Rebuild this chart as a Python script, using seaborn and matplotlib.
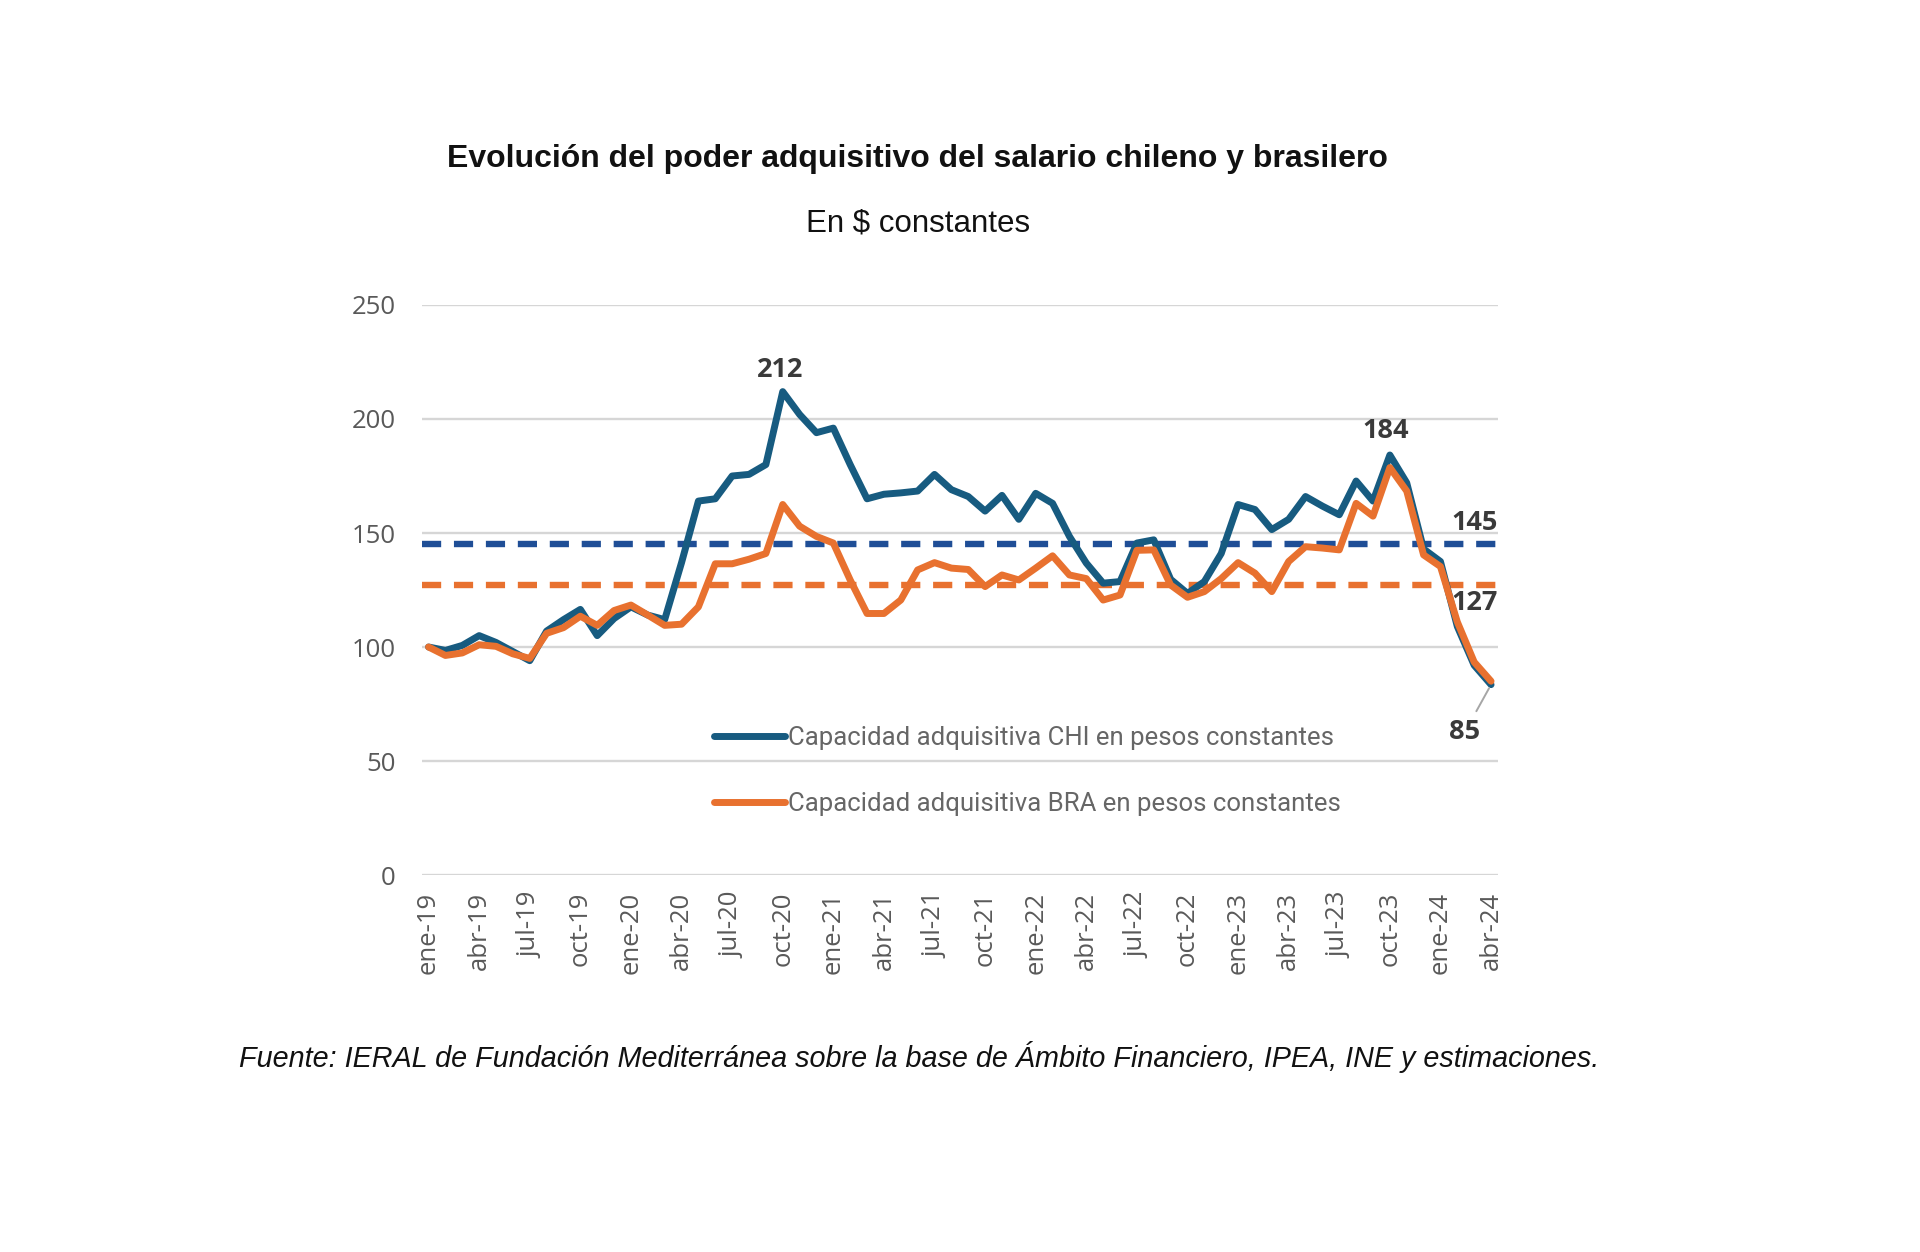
import numpy as np
import pandas as pd
import matplotlib
matplotlib.use("Agg")
import matplotlib.pyplot as plt
from matplotlib.lines import Line2D
import seaborn as sns

# ---------------- data ----------------
chi = [100, 98.5, 100.7, 105, 102, 98, 94, 107, 112, 116.5,
       105, 112.5, 117.6, 114, 112, 137, 164, 165, 175, 175.7,
       180, 212, 202, 194, 196, 180, 165, 167, 167.6, 168.4,
       175.7, 169, 166, 159.6, 166.5, 156, 167.4, 163, 148.5, 136.8,
       128, 128.7, 145.6, 147, 129.7, 123.5, 128.7, 141, 162.5, 160.3,
       151.5, 156, 166, 161.8, 158, 172.8, 164, 184.2, 172, 143,
       137.5, 109, 92, 83.5]
bra = [100, 96.3, 97.4, 101, 100.3, 97, 95, 106, 108.5, 113.5,
       109.5, 116, 118.4, 114, 109.5, 110, 117.6, 136.5, 136.5, 138.5,
       141, 162.5, 153, 148.5, 145.6, 129.4, 114.7, 114.7, 120.6, 133.8,
       137, 134.6, 134, 126.5, 131.6, 129.4, 134.6, 140, 131.6, 130,
       120.6, 122.8, 142.4, 142.6, 127.2, 121.8, 124.3, 130, 137, 132.4,
       124.3, 137.5, 144, 143.4, 142.6, 163, 157.4, 178.7, 168.4, 140.4,
       135.3, 111, 93.4, 85]
avg_chi = 145
avg_bra = 127
tick_labels = ["ene-19", "abr-19", "jul-19", "oct-19", "ene-20", "abr-20",
               "jul-20", "oct-20", "ene-21", "abr-21", "jul-21", "oct-21",
               "ene-22", "abr-22", "jul-22", "oct-22", "ene-23", "abr-23",
               "jul-23", "oct-23", "ene-24", "abr-24"]
series_names = ["Capacidad adquisitiva CHI en pesos constantes",
                "Capacidad adquisitiva BRA en pesos constantes"]
title = "Evolución del poder adquisitivo del salario chileno y brasilero"
subtitle = "En $ constantes"
source = ("Fuente: IERAL de Fundación Mediterránea sobre la base de Ámbito "
          "Financiero, IPEA, INE y estimaciones.")

# ---------------- style ----------------
sns.set_theme(style="white")
plt.rcParams["font.family"] = ["Liberation Sans", "DejaVu Sans"]

C_CHI = "#175B80"
C_BRA = "#E8712F"
C_CHI_AVG = "#1F4E96"
C_BRA_AVG = "#E8712F"
GRID = "#d6d6d6"
TXT = "#595959"
LBL = "#3a3a3a"

months = np.arange(len(chi))
df = pd.DataFrame({
    "mes": np.concatenate([months, months]),
    "valor": chi + bra,
    "serie": [series_names[0]] * len(chi) + [series_names[1]] * len(bra),
})

fig = plt.figure(figsize=(19.2, 12.52), dpi=100)
ax = fig.add_axes([0.2197, 0.3011, 0.5604, 0.4553])

for yv in [50, 100, 150, 200, 250]:
    ax.axhline(yv, color=GRID, lw=1.7, zorder=0)
ax.axhline(0, color=GRID, lw=2.4, zorder=0)

ax.axhline(avg_chi, color=C_CHI_AVG, lw=4.6, ls=(0, (3.0, 2.0)), zorder=2)
ax.axhline(avg_bra, color=C_BRA_AVG, lw=4.6, ls=(0, (3.0, 2.0)), zorder=2)

sns.lineplot(data=df, x="mes", y="valor", hue="serie",
             palette=[C_CHI, C_BRA], hue_order=series_names,
             lw=5.0, ax=ax, legend=False, zorder=3)

ax.set_xlim(-0.4, 63.4)
ax.set_ylim(0, 250)
ax.set_yticks([0, 50, 100, 150, 200, 250])
ax.set_xticks(months[::3])
ax.set_xticklabels(tick_labels, rotation=90)
ax.tick_params(axis="y", length=0, pad=19, labelsize=18.5, labelcolor=TXT)
ax.tick_params(axis="x", length=0, pad=12, labelsize=18.5, labelcolor=TXT)
for lab in ax.get_xticklabels() + ax.get_yticklabels():
    lab.set_fontfamily(["Open Sans", "DejaVu Sans"])
ax.set_xlabel("")
ax.set_ylabel("")
for s in ax.spines.values():
    s.set_visible(False)

# ---------------- annotations ----------------
lbl_font = dict(fontsize=19.5, fontweight="bold", color=LBL,
                family=["Open Sans", "DejaVu Sans"])
i_max = int(np.argmax(chi))
ax.annotate(f"{chi[i_max]:.0f}", xy=(i_max, chi[i_max]), xytext=(-2, 6),
            textcoords="offset points", ha="center", va="bottom", **lbl_font)
i_max2 = 40 + int(np.argmax(chi[40:]))
ax.annotate(f"{chi[i_max2]:.0f}", xy=(i_max2, chi[i_max2]), xytext=(-3, 8),
            textcoords="offset points", ha="center", va="bottom", **lbl_font)
ax.annotate(f"{avg_chi}", xy=(63.4, avg_chi), xytext=(0, 6),
            textcoords="offset points", ha="right", va="bottom", **lbl_font)
ax.annotate(f"{avg_bra}", xy=(63.4, avg_bra), xytext=(0, -3),
            textcoords="offset points", ha="right", va="top", **lbl_font)
ax.annotate(f"{bra[-1]:.0f}", xy=(63, chi[-1]), xytext=(-19, -25),
            textcoords="offset points", ha="center", va="top",
            arrowprops=dict(arrowstyle="-", color="#a6a6a6", lw=1.4,
                            shrinkA=4, shrinkB=3), **lbl_font)

# ---------------- legend ----------------
handles = [Line2D([], [], color=C_CHI, lw=5),
           Line2D([], [], color=C_BRA, lw=5)]
leg = fig.legend(handles, series_names, loc="center left",
                 bbox_to_anchor=(0.372, 0.384), frameon=False,
                 handlelength=2.75, handletextpad=0.12,
                 labelspacing=1.65, borderpad=0, borderaxespad=0,
                 prop={"family": ["Roboto", "DejaVu Sans"], "size": 18.5})
for t in leg.get_texts():
    t.set_color("#666666")

# ---------------- titles ----------------
fig.text(0.478, 1 - 159 / 1252, title, ha="center", va="center",
         fontsize=23, fontweight="bold", color="#111111")
fig.text(0.478, 1 - 223 / 1252, subtitle, ha="center", va="center",
         fontsize=22.5, color="#111111")
fig.text(239 / 1920, 1 - 1057 / 1252, source, ha="left", va="center",
         fontsize=20.7, style="italic", color="#111111")

fig.savefig("out.png", dpi=100, facecolor="white")
